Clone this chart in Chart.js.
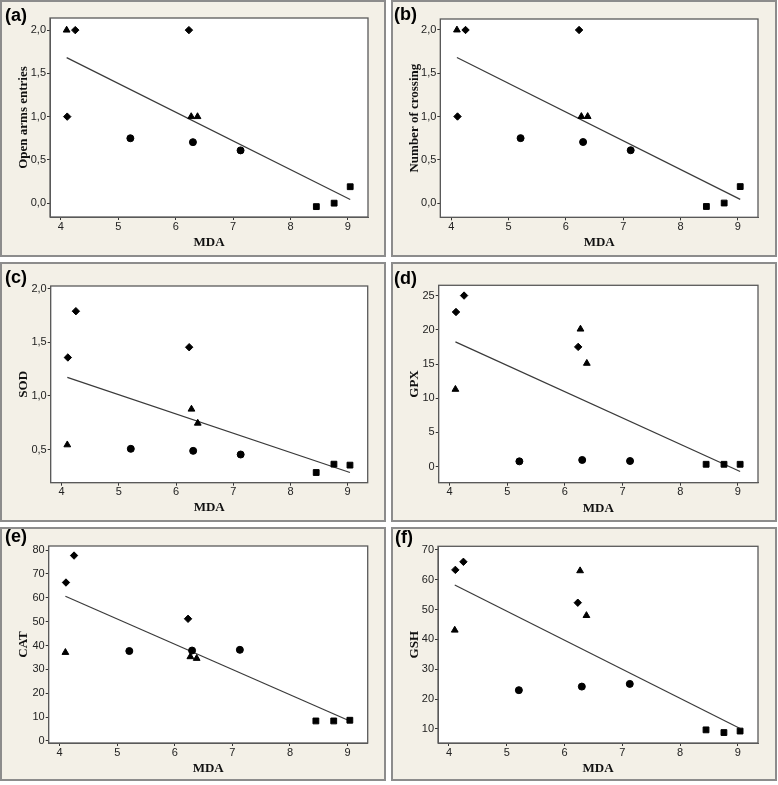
<!DOCTYPE html>
<html><head><meta charset="utf-8">
<script src="https://cdn.jsdelivr.net/npm/chart.js@4.4.0/dist/chart.umd.min.js"></script>
<style>
html,body{margin:0;padding:0;background:#fff;}
body{width:778px;height:785px;position:relative;overflow:hidden;}
.panel{position:absolute;box-sizing:border-box;border:2px solid #8c8c8c;background:#f3f0e7;}
canvas.c{position:absolute;}
.lab{position:absolute;font:bold 18px "Liberation Sans",Arial,sans-serif;line-height:18px;color:#000;white-space:nowrap;}
</style></head><body>
<script>
// MDA (x) values per group
const mdaDiamond  = [4.11, 4.25, 6.23];
const mdaTriangle = [4.10, 6.27, 6.38];
const mdaCircle   = [5.21, 6.30, 7.13];
const mdaSquare   = [8.45, 8.76, 9.04];

// (a) Open arms entries
const openDiamond  = [1.0, 2.0, 2.0];
const openTriangle = [2.0, 1.0, 1.0];
const openCircle   = [0.75, 0.705, 0.61];
const openSquare   = [-0.04, 0.0, 0.19];
// (b) Number of crossing
const crossDiamond  = [1.0, 2.0, 2.0];
const crossTriangle = [2.0, 1.0, 1.0];
const crossCircle   = [0.75, 0.705, 0.61];
const crossSquare   = [-0.04, 0.0, 0.19];
// (c) SOD
const sodDiamond  = [1.358, 1.79, 1.454];
const sodTriangle = [0.543, 0.876, 0.745];
const sodCircle   = [0.506, 0.487, 0.453];
const sodSquare   = [0.285, 0.363, 0.354];
// (d) GPX
const gpxDiamond  = [22.6, 25.0, 17.5];
const gpxTriangle = [11.3, 20.1, 15.1];
const gpxCircle   = [0.78, 0.98, 0.83];
const gpxSquare   = [0.35, 0.35, 0.35];
// (e) CAT
const catDiamond  = [66.4, 77.7, 51.2];
const catTriangle = [37.1, 35.3, 34.6];
const catCircle   = [37.7, 37.9, 38.2];
const catSquare   = [8.4, 8.4, 8.7];
// (f) GSH
const gshDiamond  = [63.3, 66.0, 52.3];
const gshTriangle = [43.1, 63.0, 48.0];
const gshCircle   = [23.0, 24.2, 25.1];
const gshSquare   = [9.7, 8.8, 9.3];

// axis settings
const xAxisTitle = 'MDA';
const xMin = 3.81, xMax = 9.35, xStep = 1;

const panels = [
  {label:'(a)', title:'Open arms entries', ys:[openDiamond,openTriangle,openCircle,openSquare],
   yMin:-0.16, yMax:2.14, step:0.5, dec:1, box:[0,0,386,257], plot:[50,18,368,217], xt:243, lab:[5,6]},
  {label:'(b)', title:'Number of crossing', ys:[crossDiamond,crossTriangle,crossCircle,crossSquare],
   yMin:-0.165, yMax:2.127, step:0.5, dec:1, box:[391,0,386,257], plot:[49.3,19,367,217.3], xt:243, lab:[3,5]},
  {label:'(c)', title:'SOD', ys:[sodDiamond,sodTriangle,sodCircle,sodSquare],
   yMin:0.19, yMax:2.025, step:0.5, dec:1, box:[0,262,386,260], plot:[50.7,24,367.7,220.7], xt:246, lab:[5,6]},
  {label:'(d)', title:'GPX', ys:[gpxDiamond,gpxTriangle,gpxCircle,gpxSquare],
   yMin:-2.34, yMax:26.5, step:5, dec:0, box:[391,262,386,260], plot:[47.7,23.3,367,220.7], xt:246.5, lab:[3,7]},
  {label:'(e)', title:'CAT', ys:[catDiamond,catTriangle,catCircle,catSquare],
   yMin:-0.84, yMax:81.7, step:10, dec:0, box:[0,527,386,254], plot:[48.7,19,367.7,216], xt:241.7, lab:[5,0]},
  {label:'(f)', title:'GSH', ys:[gshDiamond,gshTriangle,gshCircle,gshSquare],
   yMin:5.3, yMax:71.2, step:10, dec:0, box:[391,527,386,254], plot:[47,19.3,367,216], xt:241.7, lab:[4,1]}
];

const xs = [mdaDiamond, mdaTriangle, mdaCircle, mdaSquare];
const styles = [
  {pointStyle:'rectRot', pointRadius:3.7},
  {pointStyle:'triangle', pointRadius:3.9},
  {pointStyle:'circle', pointRadius:3.5},
  {pointStyle:'rect', pointRadius:4.1}
];

function pts(xa, ya){ return xa.map((x,i)=>({x:x, y:ya[i]})); }
function regression(ysets){
  const X=[],Y=[];
  xs.forEach((xa,g)=>xa.forEach((x,i)=>{X.push(x);Y.push(ysets[g][i]);}));
  const n=X.length, mx=X.reduce((a,b)=>a+b,0)/n, my=Y.reduce((a,b)=>a+b,0)/n;
  let sxy=0,sxx=0; for(let i=0;i<n;i++){sxy+=(X[i]-mx)*(Y[i]-my);sxx+=(X[i]-mx)**2;}
  const b=sxy/sxx, a=my-b*mx, x0=Math.min(...X), x1=Math.max(...X);
  return [{x:x0,y:a+b*x0},{x:x1,y:a+b*x1}];
}

const framePlugin = {
  id:'frame',
  beforeDraw(c){const a=c.chartArea,ctx=c.ctx;ctx.save();ctx.fillStyle='#ffffff';ctx.fillRect(a.left,a.top,a.right-a.left,a.bottom-a.top);ctx.restore();},
  afterDraw(c){const a=c.chartArea,ctx=c.ctx;ctx.save();ctx.strokeStyle='#5a5a5a';ctx.lineWidth=1.3;ctx.strokeRect(a.left,a.top,a.right-a.left,a.bottom-a.top);ctx.restore();}
};

const tickFont = {family:'"Liberation Sans", Arial, sans-serif', size:11};
const titleFont = {family:'"Liberation Serif", "Times New Roman", serif', size:13, weight:'bold', lineHeight:1.2};

panels.forEach(p=>{
  const [bx,by,bw,bh]=p.box;
  const div=document.createElement('div'); div.className='panel';
  Object.assign(div.style,{left:bx+'px',top:by+'px',width:bw+'px',height:bh+'px'});
  document.body.appendChild(div);
  const cv=document.createElement('canvas'); cv.className='c'; cv.width=bw; cv.height=bh;
  Object.assign(cv.style,{left:bx+'px',top:by+'px',width:bw+'px',height:bh+'px'});
  document.body.appendChild(cv);
  const lb=document.createElement('div'); lb.className='lab'; lb.textContent=p.label;
  Object.assign(lb.style,{left:(bx+p.lab[0])+'px',top:(by+p.lab[1])+'px'});
  document.body.appendChild(lb);

  const [L,T,R,B]=p.plot;
  const datasets = xs.map((xa,g)=>Object.assign({
    data:pts(xa,p.ys[g]), backgroundColor:'#000', borderColor:'#000', borderWidth:1
  }, styles[g]));
  datasets.push({data:regression(p.ys), showLine:true, pointRadius:0, borderColor:'#3a3a3a', borderWidth:1.2, fill:false});

  new Chart(cv,{
    type:'scatter',
    data:{datasets},
    options:{
      responsive:false, animation:false, devicePixelRatio:1,
      layout:{padding:{left:10, top:T, right:bw-R, bottom:0}},
      plugins:{legend:{display:false}, tooltip:{enabled:false}},
      scales:{
        x:{type:'linear', min:xMin, max:xMax,
           afterFit:s=>{s.height=bh-B;},
           ticks:{stepSize:xStep, includeBounds:false, autoSkip:false, maxRotation:0, padding:0, color:'#222', font:tickFont,
                  callback:v=>String(v)},
           grid:{drawOnChartArea:false, drawTicks:true, tickLength:3, color:'#333', lineWidth:1},
           border:{display:true, color:'#5a5a5a'},
           title:{display:true, text:xAxisTitle, color:'#111', font:titleFont, padding:{top:0,bottom:bh-7.8-p.xt}}},
        y:{type:'linear', min:p.yMin, max:p.yMax,
           afterFit:s=>{s.width=L-10;},
           ticks:{stepSize:p.step, includeBounds:false, autoSkip:false, padding:1, color:'#222', font:tickFont,
                  callback:v=>p.dec? Number(v).toFixed(p.dec).replace('.',',') : String(Math.round(v))},
           grid:{drawOnChartArea:false, drawTicks:true, tickLength:3, color:'#333', lineWidth:1},
           border:{display:true, color:'#5a5a5a'},
           title:{display:true, text:p.title, color:'#111', font:titleFont, padding:{top:5.7,bottom:0}}}
      }
    },
    plugins:[framePlugin]
  });
});
</script>
</body></html>
